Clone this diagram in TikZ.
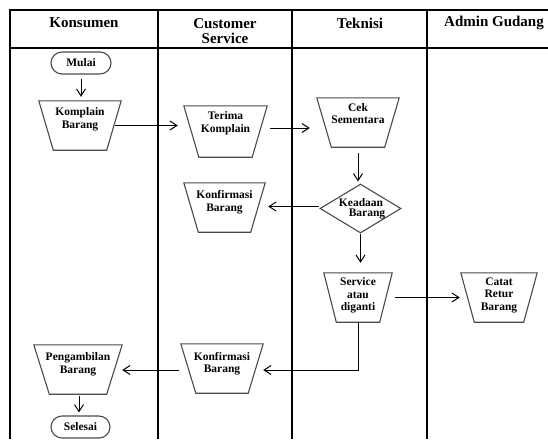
\documentclass[tikz,border=0pt]{standalone}
\usepackage{fontspec}
\setmainfont{Liberation Serif}
\usetikzlibrary{shapes.geometric,arrows.meta}

\definecolor{shapeline}{HTML}{4A4A4A}

\tikzset{
  grid/.style={line width=1.1pt, black},
  head/.style={font=\bfseries\fontsize{15}{15}\selectfont, align=center, inner sep=0pt},
  txt/.style={font=\bfseries\fontsize{11.5}{12.5}\selectfont, align=center, inner sep=0pt},
  % frame of a manual-operation box: the node itself is an invisible rectangle
  trapframe/.style={rectangle, minimum height=49pt, inner sep=0pt},
  trapline/.style={draw=shapeline, line width=1.1pt, line join=miter},
  term/.style={draw=shapeline, line width=1.1pt, rectangle, rounded corners=11pt,
    minimum width=60pt, minimum height=22pt, inner sep=0pt,
    font=\bfseries\fontsize{11.5}{12.5}\selectfont},
  decide/.style={draw=shapeline, line width=1.1pt, diamond,
    minimum width=81pt, minimum height=49pt, inner sep=0pt},
  arr/.style={line width=1pt, black, -{Straight Barb[length=7pt,width=9pt]}},
}

% outline of a manual-operation box: wide top, narrower bottom
\newcommand\trapoutline[2][14.5pt]{%
  \draw[trapline] (#2.north west) -- (#2.north east)
    -- ([xshift=-#1]#2.south east) -- ([xshift=#1]#2.south west) -- cycle;}

\begin{document}
\begin{tikzpicture}[x=1pt, y=-1pt]
\useasboundingbox (0,0) rectangle (548,439);

% swimlane table
\draw[grid] (548,10) -- (10,10) -- (10,439);
\draw[grid] (10,48) -- (548,48);
\draw[grid] (158,10) -- (158,439);
\draw[grid] (292,10) -- (292,439);
\draw[grid] (427,10) -- (427,439);

\node[head] (h1) at (84,23) {Konsumen};
\node[head] (h2) at (225,31) {Customer\\Service};
\node[head] (h3) at (360,23) {Teknisi};
\node[head] (h4) at (494,23) {Admin Gudang};

% process shapes
\node[term] (mulai) at (81,63) {Mulai};

\node[trapframe, minimum width=82pt] (kb) at (80,125.5) {};
\trapoutline{kb}
\node[txt] (kbt) at ([yshift=6pt]kb.center) {Komplain\\Barang};

\node[trapframe, minimum width=83pt, minimum height=51pt] (tk) at (225.5,131.5) {};
\trapoutline[15pt]{tk}
\node[txt] (tkt) at ([yshift=8.5pt]tk.center) {Terima\\Komplain};

\node[trapframe, minimum width=82pt] (cs) at (358,122.5) {};
\trapoutline{cs}
\node[txt] (cst) at ([yshift=9pt]cs.center) {Cek\\Sementara};

\node[decide] (kd) at (360.5,208.5) {};
\node[txt] (kdt1) at (361,203) {Keadaan};
\node[txt] (kdt2) at (367,214.5) {Barang};

\node[trapframe, minimum width=81pt] (kf1) at (224.5,207.5) {};
\trapoutline[14.5pt]{kf1}
\node[txt] (kf1t) at ([yshift=5.5pt]kf1.center) {Konfirmasi\\Barang};

\node[trapframe, minimum width=68pt] (sg) at (358,297.5) {};
\trapoutline[12.5pt]{sg}
\node[txt] (sgt) at ([yshift=2pt]sg.center) {Service\\atau\\diganti};

\node[trapframe, minimum width=76pt] (cr) at (499,297.5) {};
\trapoutline[13.5pt]{cr}
\node[txt] (crt) at ([yshift=2.5pt]cr.center) {Catat\\Retur\\Barang};

\node[trapframe, minimum width=82pt] (kf2) at (222,368.5) {};
\trapoutline[15pt]{kf2}
\node[txt] (kf2t) at ([yshift=5pt]kf2.center) {Konfirmasi\\Barang};

\node[trapframe, minimum width=88pt] (pb) at (78,369.5) {};
\trapoutline[15.5pt]{pb}
\node[txt] (pbt) at ([yshift=5pt]pb.center) {Pengambilan\\Barang};

\node[term, minimum width=59pt] (selesai) at (80.5,427) {Selesai};

% flow
\draw[arr, shorten <=4pt, shorten >=4pt] (mulai.south) -- (mulai.south |- kb.north);
\draw[arr, shorten <=-6pt, shorten >=6pt] (kb.east) -- (kb.east -| tk.west);
\draw[arr, shorten <=3pt, shorten >=7pt] ([yshift=3.5pt]tk.east) -- ([yshift=3.5pt]tk.east -| cs.west);
\draw[arr, shorten <=6pt, shorten >=2pt] (cs.south) -- (cs.south |- kd.north);
\draw[arr, shorten >=3pt] ([yshift=2pt]kd.west) -- ([yshift=2pt]kd.west -| kf1.east);
\draw[arr, shorten >=10pt] (kd.south) -- (kd.south |- sg.north);
\draw[arr, shorten <=3pt, shorten >=1pt] (sg.east) -- (sg.east -| cr.west);
\draw[arr] (sg.south) |- ([yshift=-1.5pt]kf2.east);
\draw[arr, shorten <=2pt] ([yshift=-1.5pt]kf2.west) -- ([yshift=-1.5pt]kf2.west -| pb.east);
\draw[arr, shorten <=2pt, shorten >=3pt] ([xshift=1pt]pb.south) -- ([xshift=1pt]pb.south |- selesai.north);
\end{tikzpicture}
\end{document}
